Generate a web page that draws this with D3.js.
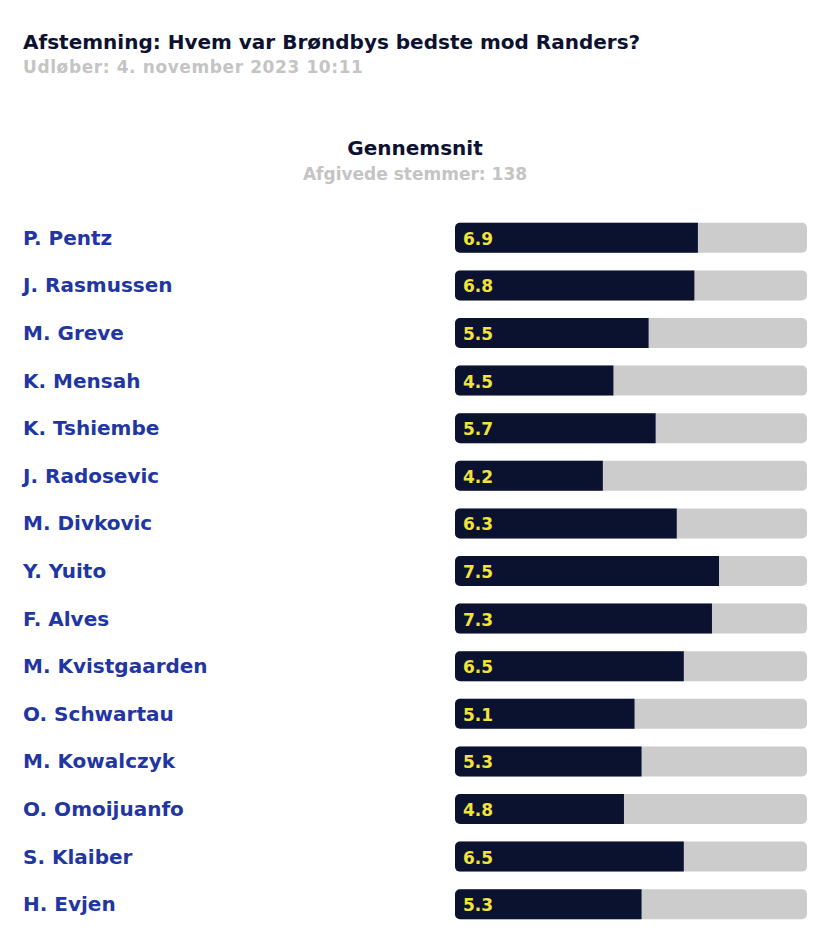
<!DOCTYPE html>
<html>
<head>
<meta charset="utf-8">
<script src="https://cdn.jsdelivr.net/npm/d3@7"></script>
<style>
  body { margin: 0; background: #fff; }
  text { font-family: "DejaVu Sans", sans-serif; font-weight: 700; }
</style>
</head>
<body>
<div id="drawing"></div>
<script>
// data
var players = ["P. Pentz", "J. Rasmussen", "M. Greve", "K. Mensah", "K. Tshiembe", "J. Radosevic",
  "M. Divkovic", "Y. Yuito", "F. Alves", "M. Kvistgaarden", "O. Schwartau", "M. Kowalczyk",
  "O. Omoijuanfo", "S. Klaiber", "H. Evjen"];
var ratings = [6.9, 6.8, 5.5, 4.5, 5.7, 4.2, 6.3, 7.5, 7.3, 6.5, 5.1, 5.3, 4.8, 6.5, 5.3];
var maxRating = 10;
var titleText = "Afstemning: Hvem var Brøndbys bedste mod Randers?";
var expiryText = "Udløber: 4. november 2023 10:11";
var headerText = "Gennemsnit";
var votesText = "Afgivede stemmer: 138";

var width = 829;
var height = 950;

var svg = d3.select("#drawing").append("svg")
  .attr("width", width)
  .attr("height", height);

// headings
svg.append("text").attr("x", 23).attr("y", 49)
  .style("font-size", "20px").style("fill", "#0c1230")
  .text(titleText);
svg.append("text").attr("x", 23).attr("y", 73)
  .style("font-size", "17px").style("letter-spacing", "0.6px").style("fill", "#c4c4c4")
  .text(expiryText);
svg.append("text").attr("x", 415).attr("y", 155)
  .attr("text-anchor", "middle")
  .style("font-size", "20px").style("fill", "#0c1230")
  .text(headerText);
svg.append("text").attr("x", 415).attr("y", 180)
  .attr("text-anchor", "middle")
  .style("font-size", "17px").style("fill", "#c4c4c4")
  .text(votesText);

// scales
var xScale = d3.scaleLinear().domain([0, maxRating]).range([455, 807]);
var yScale = d3.scaleBand().domain(players).range([214, 928]).paddingInner(0.37).paddingOuter(0.185);

var rows = svg.selectAll(".row")
  .data(players.map((p, i) => ({ name: p, value: ratings[i] })))
  .enter()
  .append("g")
  .attr("class", "row")
  .attr("transform", d => `translate(0, ${yScale(d.name)})`);

var bh = yScale.bandwidth();
var r = 5;

rows.append("text")
  .attr("x", 23).attr("y", bh / 2 + 7)
  .style("font-size", "20px").style("fill", "#1f36a3")
  .text(d => d.name);

// background track
rows.append("rect")
  .attr("x", xScale(0)).attr("y", 0)
  .attr("width", xScale(maxRating) - xScale(0)).attr("height", bh)
  .attr("rx", r).attr("ry", r)
  .style("fill", "#cccccc");

// value bar: rounded left, square right
rows.append("path")
  .attr("d", d => {
    var x0 = xScale(0), x1 = xScale(d.value);
    return `M${x0 + r},0 H${x1} V${bh} H${x0 + r} A${r},${r} 0 0 1 ${x0},${bh - r} V${r} A${r},${r} 0 0 1 ${x0 + r},0 Z`;
  })
  .style("fill", "#0b1230");

rows.append("text")
  .attr("x", xScale(0) + 8).attr("y", bh / 2 + 7)
  .style("font-size", "17px").style("fill", "#f1e23c")
  .text(d => d.value.toFixed(1));
</script>
</body>
</html>
